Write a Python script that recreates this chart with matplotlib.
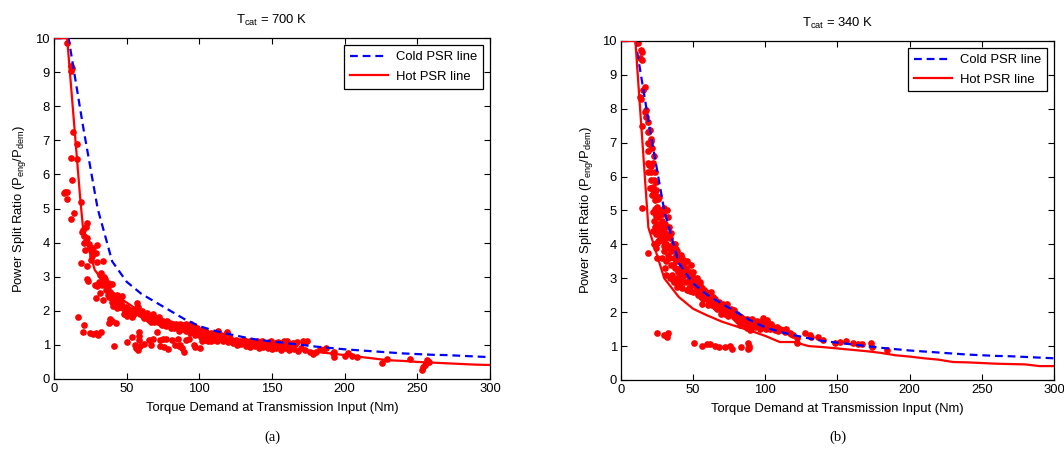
import matplotlib
matplotlib.use("Agg")
import matplotlib.pyplot as plt

plt.rcParams['font.family'] = ['Liberation Sans', 'DejaVu Sans']
plt.rcParams['mathtext.fontset'] = 'custom'
plt.rcParams['mathtext.rm'] = 'Liberation Sans'
plt.rcParams['mathtext.it'] = 'Liberation Sans'

# ---------------- data ----------------
titles = [r'T$_{\rm cat}$ = 700 K', r'T$_{\rm cat}$ = 340 K']
panel_labels = ['(a)', '(b)']
x_label = 'Torque Demand at Transmission Input (Nm)'
y_label = r'Power Split Ratio (P$_{\rm eng}$/P$_{\rm dem}$)'
legend_labels = ['Cold PSR line', 'Hot PSR line']
x_ticks = [0, 50, 100, 150, 200, 250, 300]
y_ticks = [0, 1, 2, 3, 4, 5, 6, 7, 8, 9, 10]

cold_x = [0, 10, 20, 30, 40, 50, 60, 70, 80, 90, 100, 110, 120, 130, 140, 150,
          160, 170, 180, 190, 200, 210, 220, 230, 240, 250, 260, 270, 280, 290, 300]
cold_y = [10, 10, 7.4, 5.0, 3.45, 2.85, 2.5, 2.25, 2.0, 1.75, 1.55, 1.42, 1.32, 1.23,
          1.15, 1.1, 1.05, 1.0, 0.95, 0.91, 0.87, 0.84, 0.81, 0.78, 0.75, 0.73, 0.71,
          0.70, 0.68, 0.66, 0.64]

hot_a_x = [0, 9, 18, 20, 28, 34, 40, 48, 60, 70, 80, 90, 100, 110, 120, 130, 140, 150,
           160, 170, 180, 190, 200, 210, 220, 230, 240, 250, 260, 270, 280, 290, 300]
hot_a_y = [10, 10, 5.3, 4.4, 3.2, 2.85, 2.55, 2.3, 1.95, 1.8, 1.65, 1.52, 1.35, 1.2,
           1.12, 1.07, 1.0, 0.95, 0.9, 0.85, 0.8, 0.75, 0.7, 0.65, 0.6, 0.55, 0.53,
           0.5, 0.48, 0.46, 0.44, 0.42, 0.41]

hot_b_x = [0, 10, 19, 30, 40, 50, 60, 70, 80, 90, 100, 110, 120, 130, 140, 150, 160,
           170, 180, 190, 200, 210, 220, 230, 240, 250, 260, 270, 280, 290, 300]
hot_b_y = [10, 10, 4.5, 3.0, 2.45, 2.1, 1.9, 1.72, 1.58, 1.45, 1.3, 1.12, 1.12, 1.0,
           0.97, 0.93, 0.89, 0.85, 0.8, 0.73, 0.69, 0.64, 0.6, 0.53, 0.52, 0.5, 0.48,
           0.47, 0.46, 0.41, 0.41]

pts_a = [
    (8.7, 9.87), (11.5, 9.18), (12.2, 9.11), (11.8, 9.05), (13.3, 7.25), (15.6, 6.89),
    (11.5, 6.47), (15.6, 6.45), (12.2, 5.84), (6.9, 5.47), (8.7, 5.49), (7.6, 5.5),
    (9.2, 5.27), (18.4, 5.2), (13.8, 4.86), (11.5, 4.7),
    (22.5, 4.57), (22.0, 4.47), (19.0, 4.32), (20.2, 4.37), (20.6, 4.2), (22.5, 4.13),
    (20.6, 3.98), (21.3, 3.78), (24.8, 3.83), (25.9, 3.76), (27.1, 3.83), (28.9, 3.7),
    (29.4, 3.93), (18.4, 3.41), (25.2, 3.49), (29.8, 3.44), (34.0, 3.47), (22.5, 3.31),
    (23.0, 2.92), (23.6, 2.87), (26.0, 3.6), (24.0, 3.95), (21.8, 4.05),
    (31.7, 3.05), (32.8, 2.98), (33.5, 2.9), (34.6, 3.0), (35.1, 2.92), (36.0, 2.85),
    (34.0, 2.82), (37.4, 2.83), (38.5, 2.78), (31.0, 2.85), (28.2, 2.76), (29.4, 2.73),
    (36.2, 2.69), (39.7, 2.79), (31.7, 2.51), (38.5, 2.55), (40.8, 2.46), (41.9, 2.4),
    (43.1, 2.45), (44.3, 2.42), (46.6, 2.44), (42.0, 2.33), (28.9, 2.37), (33.5, 2.32),
    (39.7, 2.27), (40.8, 2.14), (42.8, 2.2), (44.3, 2.17), (45.4, 2.12), (43.5, 2.07),
    (47.7, 2.07), (46.0, 2.24), (56.9, 2.22), (58.0, 2.12), (57.4, 2.02), (48.9, 2.0),
    (51.2, 1.95), (52.4, 2.02), (54.6, 1.88), (50.0, 1.86), (53.5, 1.82),
    (32.0, 3.1), (33.0, 2.75), (35.5, 2.6), (37.0, 2.7), (38.0, 2.4), (39.0, 2.5),
    (41.0, 2.3), (45.0, 2.3), (47.0, 2.15), (49.5, 2.1), (51.0, 2.05), (53.0, 1.95),
    (55.5, 1.95), (56.0, 2.05), (48.0, 1.9), (36.8, 2.45),
    (59.2, 1.92), (61.5, 1.86), (62.6, 1.9), (63.7, 1.8), (65.0, 1.84), (66.1, 1.76),
    (67.2, 1.87), (68.4, 1.72), (69.5, 1.78), (70.7, 1.74), (71.8, 1.68), (72.9, 1.72),
    (74.1, 1.66), (75.2, 1.7), (76.4, 1.62), (77.5, 1.65), (78.7, 1.6), (79.8, 1.63),
    (81.0, 1.57), (82.1, 1.6), (83.3, 1.55), (84.4, 1.52), (85.6, 1.56), (86.7, 1.5),
    (87.9, 1.53), (89.0, 1.47), (90.2, 1.52), (91.3, 1.44), (92.5, 1.48), (93.6, 1.42),
    (94.8, 1.45), (95.9, 1.38), (97.1, 1.4), (98.2, 1.35), (99.4, 1.37), (100.5, 1.3),
    (101.7, 1.33), (102.8, 1.28), (104.0, 1.3), (105.1, 1.25), (106.3, 1.27),
    (107.4, 1.22), (108.6, 1.24), (109.7, 1.2),
    (60.5, 2.0), (64.0, 1.95), (66.5, 1.68), (68.0, 1.9), (72.0, 1.82), (74.5, 1.58),
    (78.0, 1.7), (80.5, 1.5), (84.0, 1.62), (86.0, 1.42), (88.5, 1.58), (90.5, 1.4),
    (92.0, 1.56), (93.5, 1.35), (95.5, 1.5), (97.0, 1.3), (99.0, 1.45), (101.0, 1.22),
    (103.0, 1.4), (105.0, 1.18), (107.0, 1.32), (109.0, 1.15), (111.0, 1.28),
    (113.0, 1.38), (112.5, 1.42), (115.0, 1.3), (119.0, 1.34), (118.8, 1.38),
    (62.0, 1.78), (65.5, 1.72), (69.0, 1.66), (73.5, 1.62), (77.0, 1.56), (82.5, 1.5),
    (86.5, 1.62), (91.0, 1.6), (94.0, 1.62), (96.5, 1.55), (98.5, 1.5), (102.0, 1.45),
    (104.5, 1.38), (108.0, 1.35), (110.0, 1.32), (116.5, 1.25), (114.0, 1.2),
    (110.5, 1.15), (112.0, 1.12), (114.0, 1.18), (116.0, 1.1), (118.0, 1.15),
    (120.0, 1.08), (122.0, 1.14), (124.0, 1.1), (126.0, 1.06), (128.0, 1.12),
    (130.0, 1.05), (132.0, 1.1), (134.0, 1.02), (136.0, 1.08), (138.0, 1.04),
    (140.0, 1.1), (142.0, 1.0), (144.0, 1.06), (146.0, 1.02), (148.0, 1.08),
    (150.0, 1.0), (152.0, 1.05), (155.5, 1.05), (158.0, 1.12), (160.0, 1.1),
    (162.0, 1.0), (164.6, 1.05), (167.0, 1.08), (171.5, 1.1), (172.7, 1.07),
    (174.0, 1.1), (126.0, 1.0), (132.0, 0.98), (138.0, 0.96),
    (121.0, 1.2), (123.0, 1.05), (125.0, 1.15), (127.0, 1.09), (129.0, 1.02),
    (131.0, 1.13), (133.0, 1.06), (135.0, 1.12), (137.0, 1.0), (139.0, 1.07),
    (141.0, 1.04), (143.0, 1.1), (145.0, 0.99), (147.0, 1.04), (149.0, 1.1),
    (151.0, 1.02), (154.0, 1.08), (157.0, 1.02), (161.0, 1.06), (166.0, 1.04),
    (144.0, 0.95), (147.0, 0.9), (150.0, 0.88), (153.0, 0.92), (156.0, 0.86),
    (159.0, 0.9), (162.0, 0.85), (165.0, 0.88), (168.0, 0.82), (170.0, 0.9),
    (173.0, 0.85), (176.0, 0.8), (178.0, 0.74), (141.0, 0.92), (135.0, 0.95),
    (41.3, 0.97), (50.0, 1.07), (53.5, 1.24), (58.7, 1.39), (58.7, 1.26), (58.7, 1.14),
    (55.7, 1.0), (56.5, 0.9), (58.0, 0.95), (59.2, 0.97), (58.0, 0.85), (61.9, 1.02),
    (65.6, 1.15), (66.5, 1.0), (68.4, 1.17), (70.7, 1.38), (73.0, 1.15), (75.2, 1.17),
    (77.0, 1.16), (73.0, 0.97), (75.7, 0.93), (78.7, 0.88), (81.0, 1.15), (83.0, 1.0),
    (85.0, 1.16), (86.0, 0.97), (87.0, 1.0), (88.0, 0.9), (89.5, 0.8), (91.0, 1.15),
    (93.0, 1.17), (96.0, 1.0), (97.0, 0.95), (100.5, 0.9), (102.0, 1.1), (104.0, 1.15),
    (106.0, 1.12), (108.0, 1.1),
    (16.7, 1.83), (20.6, 1.58), (20.2, 1.39), (24.8, 1.36), (27.1, 1.32), (28.9, 1.34),
    (30.0, 1.3), (32.1, 1.37), (38.5, 1.75), (38.1, 1.65), (42.7, 1.63), (40.0, 1.7),
    (185.3, 0.85), (187.0, 0.9), (192.2, 0.75), (192.7, 0.8), (192.7, 0.65),
    (200.0, 0.67), (202.5, 0.75), (204.8, 0.67), (208.3, 0.63), (225.5, 0.46),
    (228.9, 0.6), (245.0, 0.6), (253.0, 0.26), (254.1, 0.34), (255.3, 0.41),
    (256.4, 0.55), (258.2, 0.51), (180.0, 0.8), (183.0, 0.88),
]

pts_b = [
    (12.0, 9.93), (13.9, 9.73), (14.3, 9.68), (13.2, 9.49), (14.8, 9.44), (16.6, 8.65),
    (15.5, 8.55), (13.2, 8.36), (14.0, 8.3), (17.1, 7.96), (16.5, 7.9), (14.3, 7.5),
    (17.1, 7.77), (18.5, 7.62), (19.0, 7.32), (20.1, 7.37), (18.5, 7.0), (19.7, 6.95),
    (20.5, 7.1), (21.7, 6.85), (19.0, 6.75), (21.0, 7.05), (18.5, 6.4), (19.5, 6.35),
    (22.4, 6.4), (20.8, 6.3), (19.0, 6.14), (20.5, 6.14), (23.6, 6.14), (23.0, 5.9),
    (20.1, 5.65), (22.4, 5.7), (23.5, 5.5), (24.5, 5.6), (25.9, 5.35), (23.6, 5.3),
    (14.3, 5.06), (23.6, 5.05), (25.0, 5.1), (27.0, 5.0), (29.5, 5.08), (31.7, 5.0),
    (22.0, 5.6), (21.5, 5.45), (21.0, 5.9), (22.8, 6.6), (24.5, 5.85), (26.5, 5.4),
    (22.4, 4.95), (23.0, 4.7), (23.5, 4.5), (24.0, 4.85), (24.5, 4.3), (25.0, 4.6),
    (25.5, 4.1), (26.0, 4.8), (26.5, 4.4), (27.0, 4.2), (23.2, 4.0), (24.0, 3.9),
    (25.0, 3.6), (18.9, 3.74), (22.0, 4.4), (25.5, 4.95), (26.8, 4.6), (24.8, 4.05),
    (27.5, 4.9), (28.0, 4.5), (28.5, 4.7), (29.0, 4.1), (29.5, 4.4), (30.0, 3.8),
    (30.5, 4.6), (31.0, 4.0), (31.5, 3.5), (32.0, 4.3), (32.5, 3.7), (28.2, 3.6),
    (30.2, 3.3), (31.0, 3.1), (29.0, 4.9), (32.5, 4.8), (28.5, 4.25), (30.0, 4.5),
    (31.2, 4.2), (29.8, 3.95), (32.2, 3.95),
    (33.0, 4.5), (33.5, 3.9), (34.0, 4.2), (34.5, 3.4), (35.0, 3.8), (35.5, 3.1),
    (36.0, 4.0), (36.5, 3.6), (37.0, 2.9), (37.5, 3.3), (38.0, 3.7), (38.5, 3.0),
    (34.0, 3.0), (36.0, 2.95), (35.0, 4.35), (37.5, 4.0), (33.5, 3.6), (34.8, 3.95),
    (36.2, 3.4), (37.8, 3.5), (38.2, 3.85),
    (39.0, 3.8), (39.5, 3.2), (40.0, 3.5), (40.5, 2.8), (41.0, 3.3), (41.5, 3.7),
    (42.0, 3.0), (42.5, 2.7), (43.0, 3.4), (43.5, 3.1), (44.0, 2.9), (40.0, 2.95),
    (42.0, 3.6), (44.2, 3.5), (39.0, 2.75), (40.8, 3.55), (43.2, 3.25), (41.8, 3.15),
    (45.0, 3.3), (45.5, 2.9), (46.0, 3.5), (46.5, 3.1), (47.0, 2.7), (47.5, 3.2),
    (48.0, 2.95), (48.5, 3.4), (49.0, 2.8), (49.5, 3.05), (50.0, 2.6), (50.5, 3.0),
    (51.0, 2.8), (46.0, 2.65), (48.0, 2.62), (50.0, 3.2), (45.8, 3.2), (47.2, 2.95),
    (49.2, 3.15), (50.8, 2.9),
    (52.0, 2.95), (52.5, 2.7), (53.0, 2.85), (53.5, 2.5), (54.0, 2.75), (54.5, 2.6),
    (55.0, 2.9), (55.5, 2.45), (56.0, 2.7), (56.5, 2.55), (57.0, 2.4), (57.5, 2.65),
    (58.0, 2.5), (53.0, 3.0), (56.0, 2.25), (52.8, 2.6), (54.8, 2.8), (57.2, 2.55),
    (59.0, 2.6), (59.5, 2.4), (60.0, 2.5), (61.0, 2.3), (61.5, 2.55), (62.0, 2.4),
    (63.0, 2.2), (63.5, 2.45), (64.0, 2.3), (65.0, 2.4), (65.5, 2.15), (66.0, 2.3),
    (67.0, 2.2), (60.5, 2.2), (62.5, 2.6), (66.5, 2.1), (60.8, 2.38), (64.5, 2.35),
    (68.0, 2.3), (68.5, 2.1), (69.0, 2.2), (70.0, 2.05), (70.5, 2.25), (71.0, 2.1),
    (72.0, 1.95), (72.5, 2.15), (73.0, 2.0), (74.0, 2.1), (74.5, 1.9), (75.0, 2.0),
    (76.0, 1.95), (76.5, 2.1), (69.5, 1.95), (73.5, 2.25), (71.5, 2.0), (75.5, 2.05),
    (77.5, 2.0), (78.0, 1.85), (79.0, 1.95), (80.0, 1.8), (80.5, 1.95), (81.0, 1.75),
    (82.0, 1.9), (83.0, 1.7), (83.5, 1.85), (84.0, 1.75), (85.0, 1.8), (85.5, 1.65),
    (86.0, 1.75), (87.0, 1.6), (87.5, 1.8), (88.0, 1.7), (78.5, 2.05), (82.5, 1.62),
    (89.0, 1.75), (89.5, 1.5), (90.0, 1.65), (91.0, 1.8), (91.5, 1.6), (92.0, 1.7),
    (93.0, 1.55), (94.0, 1.75), (94.5, 1.6), (95.0, 1.65), (96.0, 1.5), (96.5, 1.7),
    (97.0, 1.6), (98.0, 1.55), (98.6, 1.82), (99.0, 1.65), (89.4, 1.48), (87.1, 1.52),
    (100.0, 1.6), (100.5, 1.5), (101.0, 1.7), (102.0, 1.55), (103.0, 1.6), (103.5, 1.5),
    (104.0, 1.65), (105.0, 1.55), (106.0, 1.5), (107.0, 1.48), (108.0, 1.55),
    (109.0, 1.45), (110.0, 1.5), (101.5, 1.78),
    (112.5, 1.48), (113.7, 1.43), (117.2, 1.38), (119.5, 1.33), (121.8, 1.08),
    (127.5, 1.38), (131.0, 1.33), (131.5, 1.28), (136.8, 1.28), (140.3, 1.18),
    (148.3, 1.1), (151.8, 1.13), (156.0, 1.16), (161.0, 1.08), (164.5, 1.06),
    (166.8, 1.06), (173.0, 1.1), (173.7, 0.96), (184.6, 0.89), (118.0, 1.35),
    (122.0, 1.25), (114.0, 1.5),
    (24.7, 1.38), (30.0, 1.33), (31.6, 1.28), (32.8, 1.4), (50.6, 1.08), (56.4, 1.01),
    (59.4, 1.05), (61.7, 1.06), (65.1, 1.0), (67.9, 0.98), (72.1, 0.98), (75.5, 1.0),
    (76.7, 0.92), (83.2, 0.98), (87.8, 0.9), (88.3, 1.1), (88.7, 0.95), (88.5, 1.0),
]

scatter_a_x = [p[0] for p in pts_a]
scatter_a_y = [p[1] for p in pts_a]
scatter_b_x = [p[0] for p in pts_b]
scatter_b_y = [p[1] for p in pts_b]

panels = [
    (scatter_a_x, scatter_a_y, hot_a_x, hot_a_y),
    (scatter_b_x, scatter_b_y, hot_b_x, hot_b_y),
]

# ---------------- figure ----------------
FS = 9.4
fig = plt.figure(figsize=(10.64, 4.49), dpi=100)
axes_rects = [
    [0.0508, 0.156, 0.4097, 0.759],
    [0.5836, 0.1537, 0.4070, 0.755],
]

for i, (sx, sy, hx, hy) in enumerate(panels):
    ax = fig.add_axes(axes_rects[i])
    ax.plot(sx, sy, 'o', color='red', ms=3.8, mec='red', zorder=2, linestyle='none')
    lc, = ax.plot(cold_x, cold_y, color='blue', lw=1.6, linestyle=(0, (3.5, 2.2)),
                  zorder=3, label=legend_labels[0])
    lh, = ax.plot(hx, hy, color='red', lw=1.6, zorder=3, label=legend_labels[1])
    ax.set_xlim(0, 300)
    ax.set_ylim(0, 10)
    ax.set_xticks(x_ticks)
    ax.set_yticks(y_ticks)
    ax.tick_params(direction='in', top=True, right=True, length=4, width=0.8,
                   labelsize=FS, pad=3)
    for s in ax.spines.values():
        s.set_linewidth(0.9)
    ax.set_title(titles[i], fontsize=FS, pad=10)
    ax.set_xlabel(x_label, fontsize=FS, labelpad=5)
    ax.set_ylabel(y_label, fontsize=FS, labelpad=5)
    leg = ax.legend(handles=[lc, lh], loc='upper right', fontsize=FS,
                    fancybox=False, edgecolor='black', framealpha=1,
                    handlelength=2.9, borderaxespad=0.55, borderpad=0.45,
                    labelspacing=0.55, handletextpad=0.6)
    leg.get_frame().set_linewidth(0.9)
    bb = axes_rects[i]
    fig.text(bb[0] + bb[2] / 2, 0.027, panel_labels[i], ha='center', va='center',
             fontsize=10.5, family=['Liberation Serif', 'DejaVu Serif'])

fig.savefig('out.png', dpi=100)
